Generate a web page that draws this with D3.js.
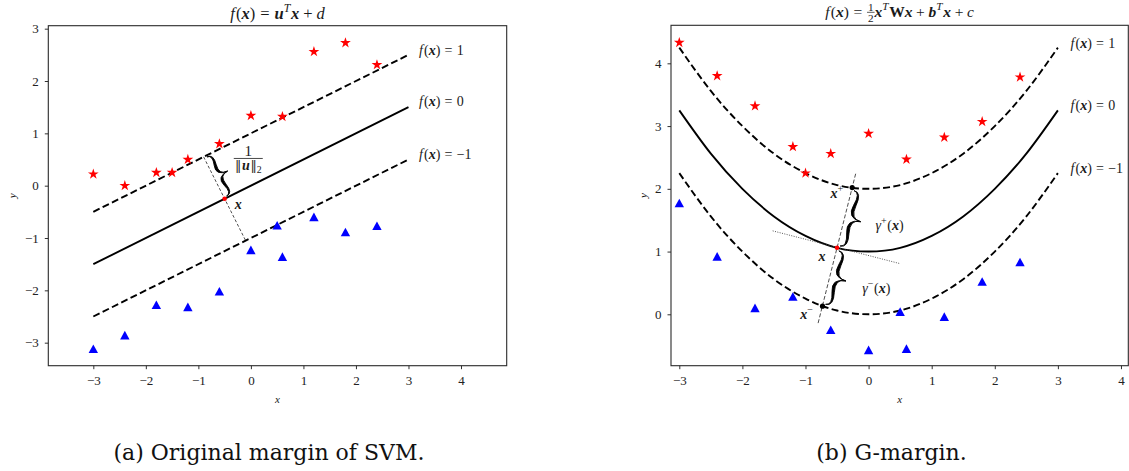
<!DOCTYPE html>
<html><head><meta charset="utf-8">
<script src="https://cdn.jsdelivr.net/npm/d3@7"></script>
<style>body{margin:0;background:#fff} svg{display:block}</style>
</head><body>
<svg id="c" width="1129" height="471"></svg>
<script>
// ---------------- data ----------------
const xTicks = [-3, -2, -1, 0, 1, 2, 3, 4];
const leftYTicks = [-3, -2, -1, 0, 1, 2, 3];
const rightYTicks = [0, 1, 2, 3, 4];

const leftStarX = [-3, -2.4, -1.8, -1.5, -1.2, -0.6, 0, 0.6, 1.2, 1.8, 2.4];
const leftStarY = [0.22, 0.0, 0.25, 0.25, 0.5, 0.8, 1.34, 1.32, 2.56, 2.73, 2.31];
const leftTriX = [-3, -2.4, -1.8, -1.2, -0.6, 0, 0.5, 0.6, 1.2, 1.8, 2.4];
const leftTriY = [-3.12, -2.86, -2.28, -2.32, -2.02, -1.23, -0.76, -1.36, -0.6, -0.89, -0.77];

const leftLineX = [-3, 3];
const leftLineYPos = [-0.5, 2.5];   // f(x)=1
const leftLineYZero = [-1.5, 1.5];  // f(x)=0
const leftLineYNeg = [-2.5, 0.5];   // f(x)=-1

const rightStarX = [-3, -2.4, -1.8, -1.2, -1.0, -0.6, 0, 0.6, 1.2, 1.8, 2.4];
const rightStarY = [4.33, 3.80, 3.32, 2.67, 2.25, 2.56, 2.88, 2.47, 2.82, 3.07, 3.78];
const rightTriX = [-3, -2.4, -1.8, -1.2, -0.6, 0, 0.5, 0.6, 1.2, 1.8, 2.4];
const rightTriY = [1.77, 0.92, 0.10, 0.28, -0.25, -0.57, 0.04, -0.55, -0.04, 0.52, 0.83];

const curveX = [-3, -2.5, -2, -1.5, -1, -0.5, 0, 0.5, 1, 1.5, 2, 2.5, 3];
const curveYPos = [4.25, 3.56, 3.0, 2.56, 2.25, 2.06, 2.0, 2.06, 2.25, 2.56, 3.0, 3.56, 4.25];
const curveYZero = [3.25, 2.56, 2.0, 1.56, 1.25, 1.06, 1.0, 1.06, 1.25, 1.56, 2.0, 2.56, 3.25];
const curveYNeg = [2.25, 1.56, 1.0, 0.56, 0.25, 0.06, 0.0, 0.06, 0.25, 0.56, 1.0, 1.56, 2.25];

const levelNames = ['1', '0', '\u22121'];
const levelLabelX = 3.2;
const leftLabelY = [2.58, 1.6, 0.59];
const rightLabelY = [4.32, 3.33, 2.33];

// annotations (data coordinates)
const leftPoint = [-0.5, -0.25];
const leftPerpTop = [-0.9, 0.55];
const leftPerpBot = [-0.1, -1.05];
const leftPointLabel = [-0.24, -0.37];
const leftFracPos = [-0.05, 0.52];

const rightPoint = [-0.5, 1.06];
const rightNormalTop = [-0.2, 2.26];
const rightNormalBot = [-0.8, -0.14];
const rightTangentA = [-1.52, 1.33];
const rightTangentB = [0.49, 0.81];
const rightXPlus = [-0.26, 2.02];
const rightXMinus = [-0.73, 0.13];
const rightXPlusLabel = [-0.5, 1.92];
const rightXLabel = [-0.74, 0.92];
const rightXMinusLabel = [-0.98, -0.01];
const gammaPlusPos = [0.11, 1.41];
const gammaMinusPos = [-0.10, 0.41];

const captions = ['(a) Original margin of SVM.', '(b) G-margin.'];

// ---------------- layout ----------------
const FONT = "'Liberation Serif', 'DejaVu Serif', serif";
const CAPFONT = "'DejaVu Serif', serif";
const INK = '#1a1a1a';
const svg = d3.select('#c');

const L = {x0: 48.3, x1: 506.7, y0: 25.7, y1: 365.7, xd: [-3.857, 4.87], yd: [-3.44, 3.057], yLab: 12.6};
const R = {x0: 671, x1: 1128.3, y0: 25.3, y1: 365.7, xd: [-3.1315, 4.116], yd: [-0.819, 4.606], yLab: 643.8};
[L, R].forEach(p => {
  p.x = d3.scaleLinear().domain(p.xd).range([p.x0, p.x1]);
  p.y = d3.scaleLinear().domain(p.yd).range([p.y1, p.y0]);
});

function mathText(parent, parts, size, x, y, anchor = 'start') {
  const g = parent.append('g');
  let cx = 0;
  for (const p of parts) {
    cx += (p.l || 0) * size;
    if (p.frac) {
      const fs = size * (p.k || 0.72);
      const mk = s => g.append('text').style('font-family', FONT).attr('font-size', fs)
        .attr('fill', INK).attr('text-anchor', 'middle').text(s);
      const t1 = mk(p.frac[0]), t2 = mk(p.frac[1]);
      const w = Math.max(t1.node().getComputedTextLength(), t2.node().getComputedTextLength()) + 2;
      t1.attr('x', cx + w / 2).attr('y', -0.36 * size);
      t2.attr('x', cx + w / 2).attr('y', 0.34 * size);
      g.append('line').attr('x1', cx).attr('x2', cx + w).attr('y1', -0.27 * size).attr('y2', -0.27 * size)
        .attr('stroke', INK).attr('stroke-width', 0.7);
      cx += w;
    } else {
      const fs = size * (p.k || 1);
      const s = p.s || 'r';
      const t = g.append('text').attr('x', cx).attr('y', (p.dy || 0) * size)
        .style('font-family', p.f || FONT).attr('font-size', fs)
        .attr('font-style', s.includes('i') ? 'italic' : 'normal')
        .attr('font-weight', s.includes('b') ? 'bold' : 'normal')
        .attr('fill', INK).text(p.t);
      cx += t.node().getComputedTextLength();
    }
    cx += (p.r || 0) * size;
  }
  const off = anchor === 'middle' ? -cx / 2 : anchor === 'end' ? -cx : 0;
  g.attr('transform', `translate(${x + off},${y})`);
  return cx;
}
const FX = [{t: 'f', s: 'i', r: 0.08}, {t: '(', s: 'r'}, {t: 'x', s: 'bi'}, {t: ')', s: 'r'}];
const EQ = {t: '=', s: 'r', l: 0.3, r: 0.3};
const PLUS = {t: '+', s: 'r', l: 0.24, r: 0.24};
const SUP = t => ({t, s: t === 'T' ? 'i' : 'r', k: 0.72, dy: -0.42, r: 0.04});
const SUB = t => ({t, s: 'r', k: 0.7, dy: 0.25});
const NORM = {t: '\u2016', s: 'r', f: "'DejaVu Serif', serif", k: 0.9};

function drawPanel(P, yTicks) {
  const g = svg.append('g');
  const fmt = d => d < 0 ? '\u2212' + Math.abs(d) : String(d);
  const ax = g.append('g').attr('transform', `translate(0,${P.y1})`)
    .call(d3.axisBottom(P.x).tickValues(xTicks).tickSize(3.5).tickPadding(7).tickFormat(fmt));
  const ay = g.append('g').attr('transform', `translate(${P.x0},0)`)
    .call(d3.axisLeft(P.y).tickValues(yTicks).tickSize(3.5).tickPadding(6).tickFormat(fmt));
  [ax, ay].forEach(a => {
    a.attr('font-family', null).attr('font-size', null);
    a.select('.domain').remove();
    a.selectAll('line').attr('stroke', INK).attr('stroke-width', 0.9);
    a.selectAll('text').style('font-family', FONT).style('font-size', '13px').attr('fill', '#222');
  });
  g.append('rect').attr('x', P.x0).attr('y', P.y0).attr('width', P.x1 - P.x0).attr('height', P.y1 - P.y0)
    .attr('fill', 'none').attr('stroke', '#2a2a2a').attr('stroke-width', 1.1);
  g.append('text').attr('x', (P.x0 + P.x1) / 2).attr('y', 403).attr('text-anchor', 'middle')
    .style('font-family', FONT).attr('font-style', 'italic').attr('font-size', 11).attr('fill', INK).text('x');
  g.append('text').attr('transform', `translate(${P.yLab},${(P.y0 + P.y1) / 2}) rotate(-90)`)
    .attr('text-anchor', 'middle').attr('dy', '0.3em')
    .style('font-family', FONT).attr('font-style', 'italic').attr('font-size', 11).attr('fill', INK).text('y');
  return g;
}

function stars(g, P, xs, ys) {
  const sym = d3.symbol(d3.symbolStar, 36)();
  g.append('g').selectAll('path').data(xs.map((x, i) => [x, ys[i]])).join('path')
    .attr('d', sym).attr('fill', '#ff0000')
    .attr('transform', d => `translate(${P.x(d[0])},${P.y(d[1])})`);
}
function tris(g, P, xs, ys) {
  const tri = 'M0,-4.5L4.7,4.1L-4.7,4.1Z';
  g.append('g').selectAll('path').data(xs.map((x, i) => [x, ys[i]])).join('path')
    .attr('d', tri).attr('fill', '#0000ff')
    .attr('transform', d => `translate(${P.x(d[0])},${P.y(d[1])})`);
}
// TeX-like curly brace (filled, thick in the middle of each arm)
function brace(g, p1, p2, w, shrink, off, th) {
  const dx = p2[0] - p1[0], dy = p2[1] - p1[1], len = Math.hypot(dx, dy);
  const ux = dx / len, uy = dy / len, nx = -uy, ny = ux;
  const a = [p1[0] + ux * shrink + nx * off, p1[1] + uy * shrink + ny * off];
  const l = len - 2 * shrink, q = 0.6;
  const P = (s, t) => [a[0] + ux * s + nx * t, a[1] + uy * s + ny * t];
  const S = p => p.map(v => v.toFixed(2)).join(',');
  const refl = (e, c) => [2 * e[0] - c[0], 2 * e[1] - c[1]];
  let d = '';
  [[0, 1], [l, -1]].forEach(([s0, dir]) => {
    const A = P(s0, 0), C1 = P(s0, q * w), E = P(s0 + dir * l / 4, (1 - q) * w), T = P(l / 2, w);
    const C2 = refl(E, C1);
    const C1i = P(s0 + dir * 0.6, q * w - th * 0.5), Ei = P(s0 + dir * l / 4, (1 - q) * w - th);
    const C2i = refl(Ei, C1i);
    d += `M${S(A)}Q${S(C1)} ${S(E)}Q${S(C2)} ${S(T)}Q${S(C2i)} ${S(Ei)}Q${S(C1i)} ${S(A)}Z`;
  });
  g.append('path').attr('d', d).attr('fill', '#000').attr('stroke', '#000').attr('stroke-width', 0.9)
    .attr('stroke-linejoin', 'round');
}
const zip = (xs, ys) => xs.map((x, i) => [x, ys[i]]);

function draw() {
  // ---------- left panel ----------
  const gl = drawPanel(L, leftYTicks);
  const lineL = d3.line().x(d => L.x(d[0])).y(d => L.y(d[1]));
  [[leftLineYPos, true], [leftLineYZero, false], [leftLineYNeg, true]].forEach(([ys, dashed]) => {
    gl.append('path').attr('d', lineL(zip(leftLineX, ys))).attr('fill', 'none').attr('stroke', '#000')
      .attr('stroke-width', 1.9).attr('stroke-dasharray', dashed ? '7,3.4' : null);
  });
  stars(gl, L, leftStarX, leftStarY);
  tris(gl, L, leftTriX, leftTriY);
  gl.append('path').attr('d', lineL([leftPerpTop, leftPerpBot])).attr('fill', 'none').attr('stroke', '#222')
    .attr('stroke-width', 0.8).attr('stroke-dasharray', '3,2');
  brace(gl, [L.x(leftPoint[0]), L.y(leftPoint[1])], [L.x(leftPerpTop[0]), L.y(leftPerpTop[1])], 12, 1.5, 3, 2.2);
  gl.append('circle').attr('cx', L.x(leftPoint[0])).attr('cy', L.y(leftPoint[1])).attr('r', 2.3).attr('fill', '#ff0000');
  mathText(gl, [{t: 'x', s: 'bi'}], 14, L.x(leftPointLabel[0]), L.y(leftPointLabel[1]) + 4, 'middle');
  // fraction 1/||u||_2
  const fx = L.x(leftFracPos[0]), fy = L.y(leftFracPos[1]);
  mathText(gl, [{t: '1', s: 'r'}], 15, fx, fy - 2.5, 'middle');
  gl.append('line').attr('x1', fx - 14.5).attr('x2', fx + 14.5).attr('y1', fy).attr('y2', fy)
    .attr('stroke', INK).attr('stroke-width', 0.8);
  mathText(gl, [NORM, {t: 'u', s: 'bi', l: 0.05, r: 0.05}, NORM, SUB('2')], 14, fx, fy + 11.5, 'middle');
  levelNames.forEach((n, i) => {
    mathText(gl, [...FX, EQ, {t: n, s: 'r'}], 14, L.x(levelLabelX), L.y(leftLabelY[i]) + 4.5, 'start');
  });
  mathText(gl, [...FX, EQ, {t: 'u', s: 'bi'}, SUP('T'), {t: 'x', s: 'bi'}, PLUS, {t: 'd', s: 'i'}],
    16.5, (L.x0 + L.x1) / 2, 18.5, 'middle');

  // ---------- right panel ----------
  const gr = drawPanel(R, rightYTicks);
  const lineR = d3.line().x(d => R.x(d[0])).y(d => R.y(d[1]));
  const curveR = d3.line().x(d => R.x(d[0])).y(d => R.y(d[1])).curve(d3.curveNatural);
  [[curveYPos, true], [curveYZero, false], [curveYNeg, true]].forEach(([ys, dashed]) => {
    gr.append('path').attr('d', curveR(zip(curveX, ys))).attr('fill', 'none').attr('stroke', '#000')
      .attr('stroke-width', 1.9).attr('stroke-dasharray', dashed ? '7,3.4' : null);
  });
  stars(gr, R, rightStarX, rightStarY);
  tris(gr, R, rightTriX, rightTriY);
  gr.append('path').attr('d', lineR([rightNormalBot, rightNormalTop])).attr('fill', 'none').attr('stroke', '#222')
    .attr('stroke-width', 0.8).attr('stroke-dasharray', '4,2');
  gr.append('path').attr('d', lineR([rightTangentA, rightTangentB])).attr('fill', 'none').attr('stroke', '#444')
    .attr('stroke-width', 0.9).attr('stroke-dasharray', '1,1.4');
  const px = p => [R.x(p[0]), R.y(p[1])];
  brace(gr, px(rightPoint), px(rightXPlus), 14, 2.5, 2.5, 2.4);
  brace(gr, px(rightXMinus), px(rightPoint), 14, 2.5, 2.5, 2.4);
  gr.append('circle').attr('cx', R.x(rightXPlus[0])).attr('cy', R.y(rightXPlus[1])).attr('r', 2.6).attr('fill', '#000');
  gr.append('circle').attr('cx', R.x(rightXMinus[0])).attr('cy', R.y(rightXMinus[1])).attr('r', 2.6).attr('fill', '#000');
  gr.append('circle').attr('cx', R.x(rightPoint[0])).attr('cy', R.y(rightPoint[1])).attr('r', 2.3).attr('fill', '#ff0000');
  mathText(gr, [{t: 'x', s: 'bi'}, SUP('+')], 14, R.x(rightXPlusLabel[0]), R.y(rightXPlusLabel[1]) + 4, 'middle');
  mathText(gr, [{t: 'x', s: 'bi'}], 14, R.x(rightXLabel[0]), R.y(rightXLabel[1]) + 4, 'middle');
  mathText(gr, [{t: 'x', s: 'bi'}, SUP('\u2212')], 14, R.x(rightXMinusLabel[0]), R.y(rightXMinusLabel[1]) + 4, 'middle');
  mathText(gr, [{t: '\u03b3', s: 'i'}, SUP('+'), {t: '(', s: 'r'}, {t: 'x', s: 'bi'}, {t: ')', s: 'r'}],
    14, R.x(gammaPlusPos[0]), R.y(gammaPlusPos[1]) + 4.5, 'start');
  mathText(gr, [{t: '\u03b3', s: 'i'}, SUP('\u2212'), {t: '(', s: 'r'}, {t: 'x', s: 'bi'}, {t: ')', s: 'r'}],
    14, R.x(gammaMinusPos[0]), R.y(gammaMinusPos[1]) + 4.5, 'start');
  levelNames.forEach((n, i) => {
    mathText(gr, [...FX, EQ, {t: n, s: 'r'}], 14, R.x(levelLabelX), R.y(rightLabelY[i]) + 4.5, 'start');
  });
  mathText(gr, [...FX, EQ, {frac: ['1', '2']}, {t: 'x', s: 'bi'}, SUP('T'), {t: 'W', s: 'b'}, {t: 'x', s: 'bi'},
    PLUS, {t: 'b', s: 'bi'}, SUP('T'), {t: 'x', s: 'bi'}, PLUS, {t: 'c', s: 'i'}],
    15.5, (R.x0 + R.x1) / 2, 16.5, 'middle');

  // captions
  [[captions[0], 269], [captions[1], 891.5]].forEach(([t, x]) => {
    svg.append('text').attr('x', x).attr('y', 460).attr('text-anchor', 'middle')
      .style('font-family', CAPFONT).attr('font-size', 22).attr('fill', '#111').text(t);
  });
}
(document.fonts && document.fonts.ready ? document.fonts.ready : Promise.resolve()).then(draw);
</script>
</body></html>
